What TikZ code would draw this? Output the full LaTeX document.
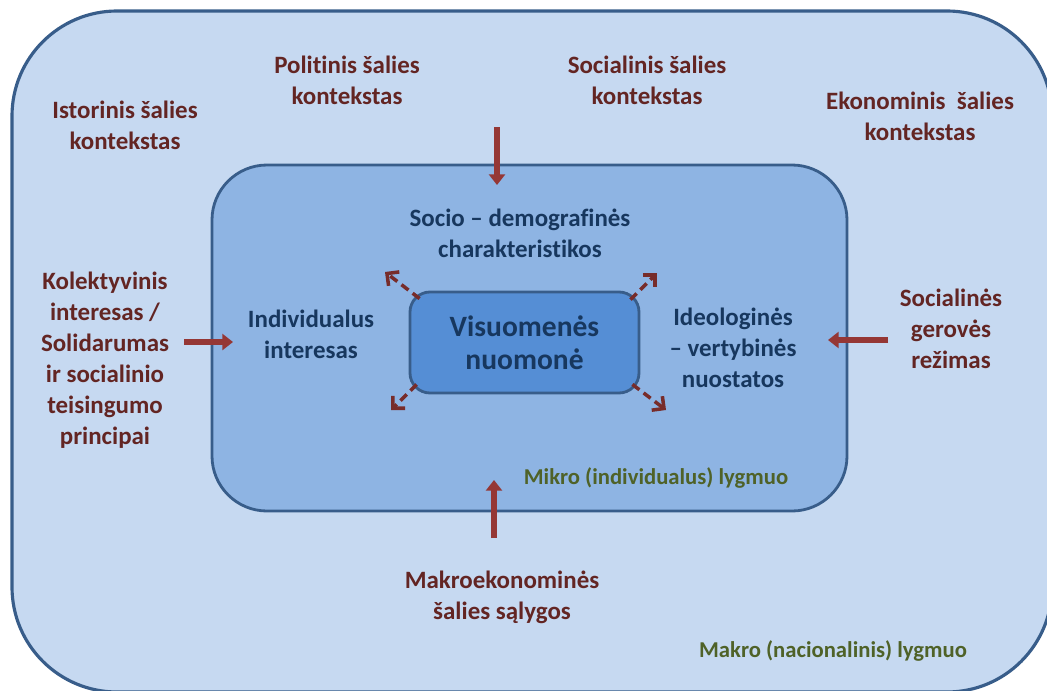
\documentclass[tikz,border=0pt]{standalone}
\usepackage{fontspec}
\setmainfont{Carlito}[Ligatures=NoCommon]
\usepackage{xcolor}
\usetikzlibrary{arrows.meta}
\definecolor{outerfill}{HTML}{C6D9F1}
\definecolor{innerfill}{HTML}{8EB4E3}
\definecolor{corefill}{HTML}{558ED5}
\definecolor{edgeblue}{HTML}{385D8A}
\definecolor{ctxred}{HTML}{632523}
\definecolor{arrred}{HTML}{953735}
\definecolor{dashred}{HTML}{772C2A}
\definecolor{navy}{HTML}{17375E}
\definecolor{lvlgreen}{HTML}{4F6228}
\begin{document}
\begin{tikzpicture}[x=0.02cm,y=-0.02cm,
  ctx/.style={text=ctxred,align=center,font=\fontsize{14.2}{17.6}\selectfont\bfseries},
  micro/.style={text=navy,align=center,font=\fontsize{14.2}{17.6}\selectfont\bfseries},
  lvl/.style={text=lvlgreen,font=\fontsize{12.9}{15}\selectfont\bfseries},
  push/.style={draw=arrred,line width=3.2pt,-{Triangle[length=6pt,width=9pt]}},
  spread/.style={draw=dashred,line width=2pt,dash pattern=on 5pt off 3pt,-{Straight Barb[length=5pt,width=10pt]}}]
\useasboundingbox (0,0) rectangle (1047,690);
\clip (0,0) rectangle (1047,690);
% levels
\draw[edgeblue,line width=1.8pt,fill=outerfill,rounded corners=2.1cm] (12,11) rectangle (1052,692);
\draw[edgeblue,line width=1.6pt,fill=innerfill,rounded corners=1.1cm] (212,165) rectangle (847,511);
\node[draw=edgeblue,line width=1.6pt,fill=corefill,rounded corners=0.4cm,minimum width=229*0.02cm,minimum height=101*0.02cm,
  text=navy,align=center,font=\fontsize{16.8}{19}\selectfont\bfseries] (core) at (524.5,342.5) {Visuomenės\\nuomonė};

% country context
\node[ctx] (hist) at (125,125) {Istorinis šalies\\kontekstas};
\node[ctx] (pol) at (347,80) {Politinis šalies\\kontekstas};
\node[ctx] (soc) at (647,80) {Socialinis šalies\\kontekstas};
\node[ctx] (eko) at (920,116) {Ekonominis \ šalies\\kontekstas};
\node[ctx] (kol) at (105,360) {Kolektyvinis\\interesas /\\Solidarumas\\ir socialinio\\teisingumo\\principai};
\node[ctx] (ger) at (951,329) {Socialinės\\gerovės\\režimas};
\node[ctx] (makro) at (502,597) {Makroekonominės\\šalies sąlygos};

% individual level
\node[micro] (demo) at (520,233) {Socio – demografinės\\charakteristikos};
\node[micro] (indiv) at (311,334) {Individualus\\interesas};
\node[micro] (ideo) at (733,348) {Ideologinės\\– vertybinės\\nuostatos};

\node[lvl] (mikro) at (656,478) {Mikro (individualus) lygmuo};
\node[lvl] (makrolvl) at (833,651) {Makro (nacionalinis) lygmuo};

% influences
\coordinate (topA) at (497,127);
\coordinate (topB) at (497,185);
\coordinate (leftA) at (184,342);
\coordinate (leftB) at (233,342);
\coordinate (rightA) at (888,340);
\coordinate (rightB) at (828,340);
\coordinate (botA) at (494,538);
\coordinate (botB) at (494,480);
\draw[push] (topA) -- (topB);
\draw[push] (leftA) -- (leftB);
\draw[push] (rightA) -- (rightB);
\draw[push] (botA) -- (botB);

\coordinate (nw) at (385,272);
\coordinate (ne) at (657,273);
\coordinate (sw) at (391,410);
\coordinate (se) at (666,410);
\draw[spread] (core.north west) ++(11,8) -- (nw);
\draw[spread] (core.north east) ++(-10,9) -- (ne);
\draw[spread] (core.south west) ++(8,-10) -- (sw);
\draw[spread] (core.south east) ++(-8,-10) -- (se);
\end{tikzpicture}
\end{document}
